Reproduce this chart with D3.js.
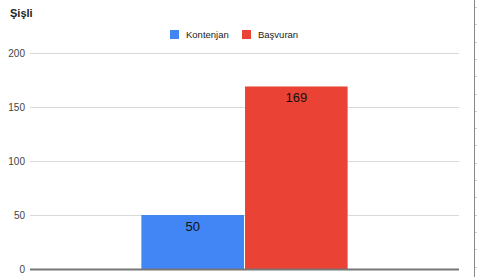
<!DOCTYPE html>
<html>
  <head>
    <meta charset="utf-8">
    <script src="https://cdn.jsdelivr.net/npm/d3@7"></script>
    <style>
      body { margin: 0; background: #fff; }
      text { font-family: "Liberation Sans", Arial, sans-serif; }
    </style>
  </head>
  <body>
    <div id="chart"></div>

    <script>
      const title = 'Şişli';
      const categories = [''];
      const seriesNames = ['Kontenjan', 'Başvuran'];
      const seriesColors = ['#4285f4', '#ea4335'];
      const kontenjan = [50];
      const basvuran = [169];
      const yTicks = [0, 50, 100, 150, 200];

      // ========= Setup dimensions ========= //
      const width = 477;
      const height = 277;
      const margin = { top: 53, right: 18, bottom: 8, left: 30 };
      const plotW = width - margin.left - margin.right;
      const plotH = height - margin.top - margin.bottom;

      const svg = d3.select('#chart').append('svg')
        .attr('width', width)
        .attr('height', height);

      // ========= Scales ========= //
      const y = d3.scaleLinear().domain([0, 200]).range([margin.top + plotH, margin.top]);
      const x0 = d3.scaleBand().domain(categories)
        .range([margin.left, margin.left + plotW])
        .paddingInner(0).paddingOuter(0.54);
      const x1 = d3.scaleBand().domain(seriesNames)
        .range([0, x0.bandwidth()])
        .paddingInner(0.01);

      // ========= Gridlines + y axis ========= //
      const yAxis = d3.axisLeft(y).tickValues(yTicks).tickSize(-plotW).tickPadding(6);
      const ga = svg.append('g')
        .attr('transform', `translate(${margin.left},0)`)
        .call(yAxis);
      ga.select('.domain').remove();
      ga.selectAll('.tick line').attr('stroke', '#d9d9d9').attr('stroke-width', 1);
      ga.selectAll('.tick text')
        .attr('fill', '#444')
        .style('font-size', '10px')
        .attr('x', -5);

      // ========= Bars ========= //
      const rows = categories.map((c, i) => ({ cat: c, values: [kontenjan[i], basvuran[i]] }));
      const groups = svg.selectAll('g.cat').data(rows).enter().append('g')
        .attr('class', 'cat')
        .attr('transform', d => `translate(${x0(d.cat)},0)`);

      const bars = groups.selectAll('g.bar')
        .data(d => d.values.map((v, j) => ({ name: seriesNames[j], value: v, color: seriesColors[j] })))
        .enter().append('g').attr('class', 'bar');

      bars.append('rect')
        .attr('x', d => x1(d.name))
        .attr('y', d => y(d.value))
        .attr('width', x1.bandwidth())
        .attr('height', d => y(0) - y(d.value))
        .attr('fill', d => d.color);

      bars.append('text')
        .attr('x', d => x1(d.name) + x1.bandwidth() / 2)
        .attr('y', d => y(d.value) + 16)
        .attr('text-anchor', 'middle')
        .attr('fill', '#111')
        .style('font-size', '13px')
        .text(d => d.value);

      // ========= Baseline ========= //
      svg.append('line')
        .attr('x1', margin.left).attr('x2', margin.left + plotW)
        .attr('y1', y(0) + 0.5).attr('y2', y(0) + 0.5)
        .attr('stroke', '#777').attr('stroke-width', 2);

      // ========= Title ========= //
      svg.append('text')
        .attr('x', 10).attr('y', 17)
        .attr('fill', '#222')
        .style('font-size', '11px')
        .style('font-weight', 'bold')
        .text(title);

      // ========= Legend ========= //
      const legendX = [170, 242];
      const legend = svg.selectAll('g.legend').data(seriesNames).enter().append('g')
        .attr('class', 'legend')
        .attr('transform', (d, i) => `translate(${legendX[i]},30)`);
      legend.append('rect')
        .attr('width', 9).attr('height', 9)
        .attr('fill', (d, i) => seriesColors[i]);
      legend.append('text')
        .attr('x', 16).attr('y', 8)
        .attr('fill', '#222')
        .style('font-size', '9.5px')
        .text(d => d);

      // ========= Sheet border on the right ========= //
      svg.append('line')
        .attr('x1', 474.5).attr('x2', 474.5)
        .attr('y1', 0).attr('y2', height)
        .attr('stroke', '#888').attr('stroke-width', 1);
      svg.selectAll('line.mark').data(d3.range(7, height, 17.3)).enter().append('line')
        .attr('class', 'mark')
        .attr('x1', 475).attr('x2', 477)
        .attr('y1', d => Math.round(d) + 0.5).attr('y2', d => Math.round(d) + 0.5)
        .attr('stroke', '#ccc');
    </script>
  </body>
</html>
